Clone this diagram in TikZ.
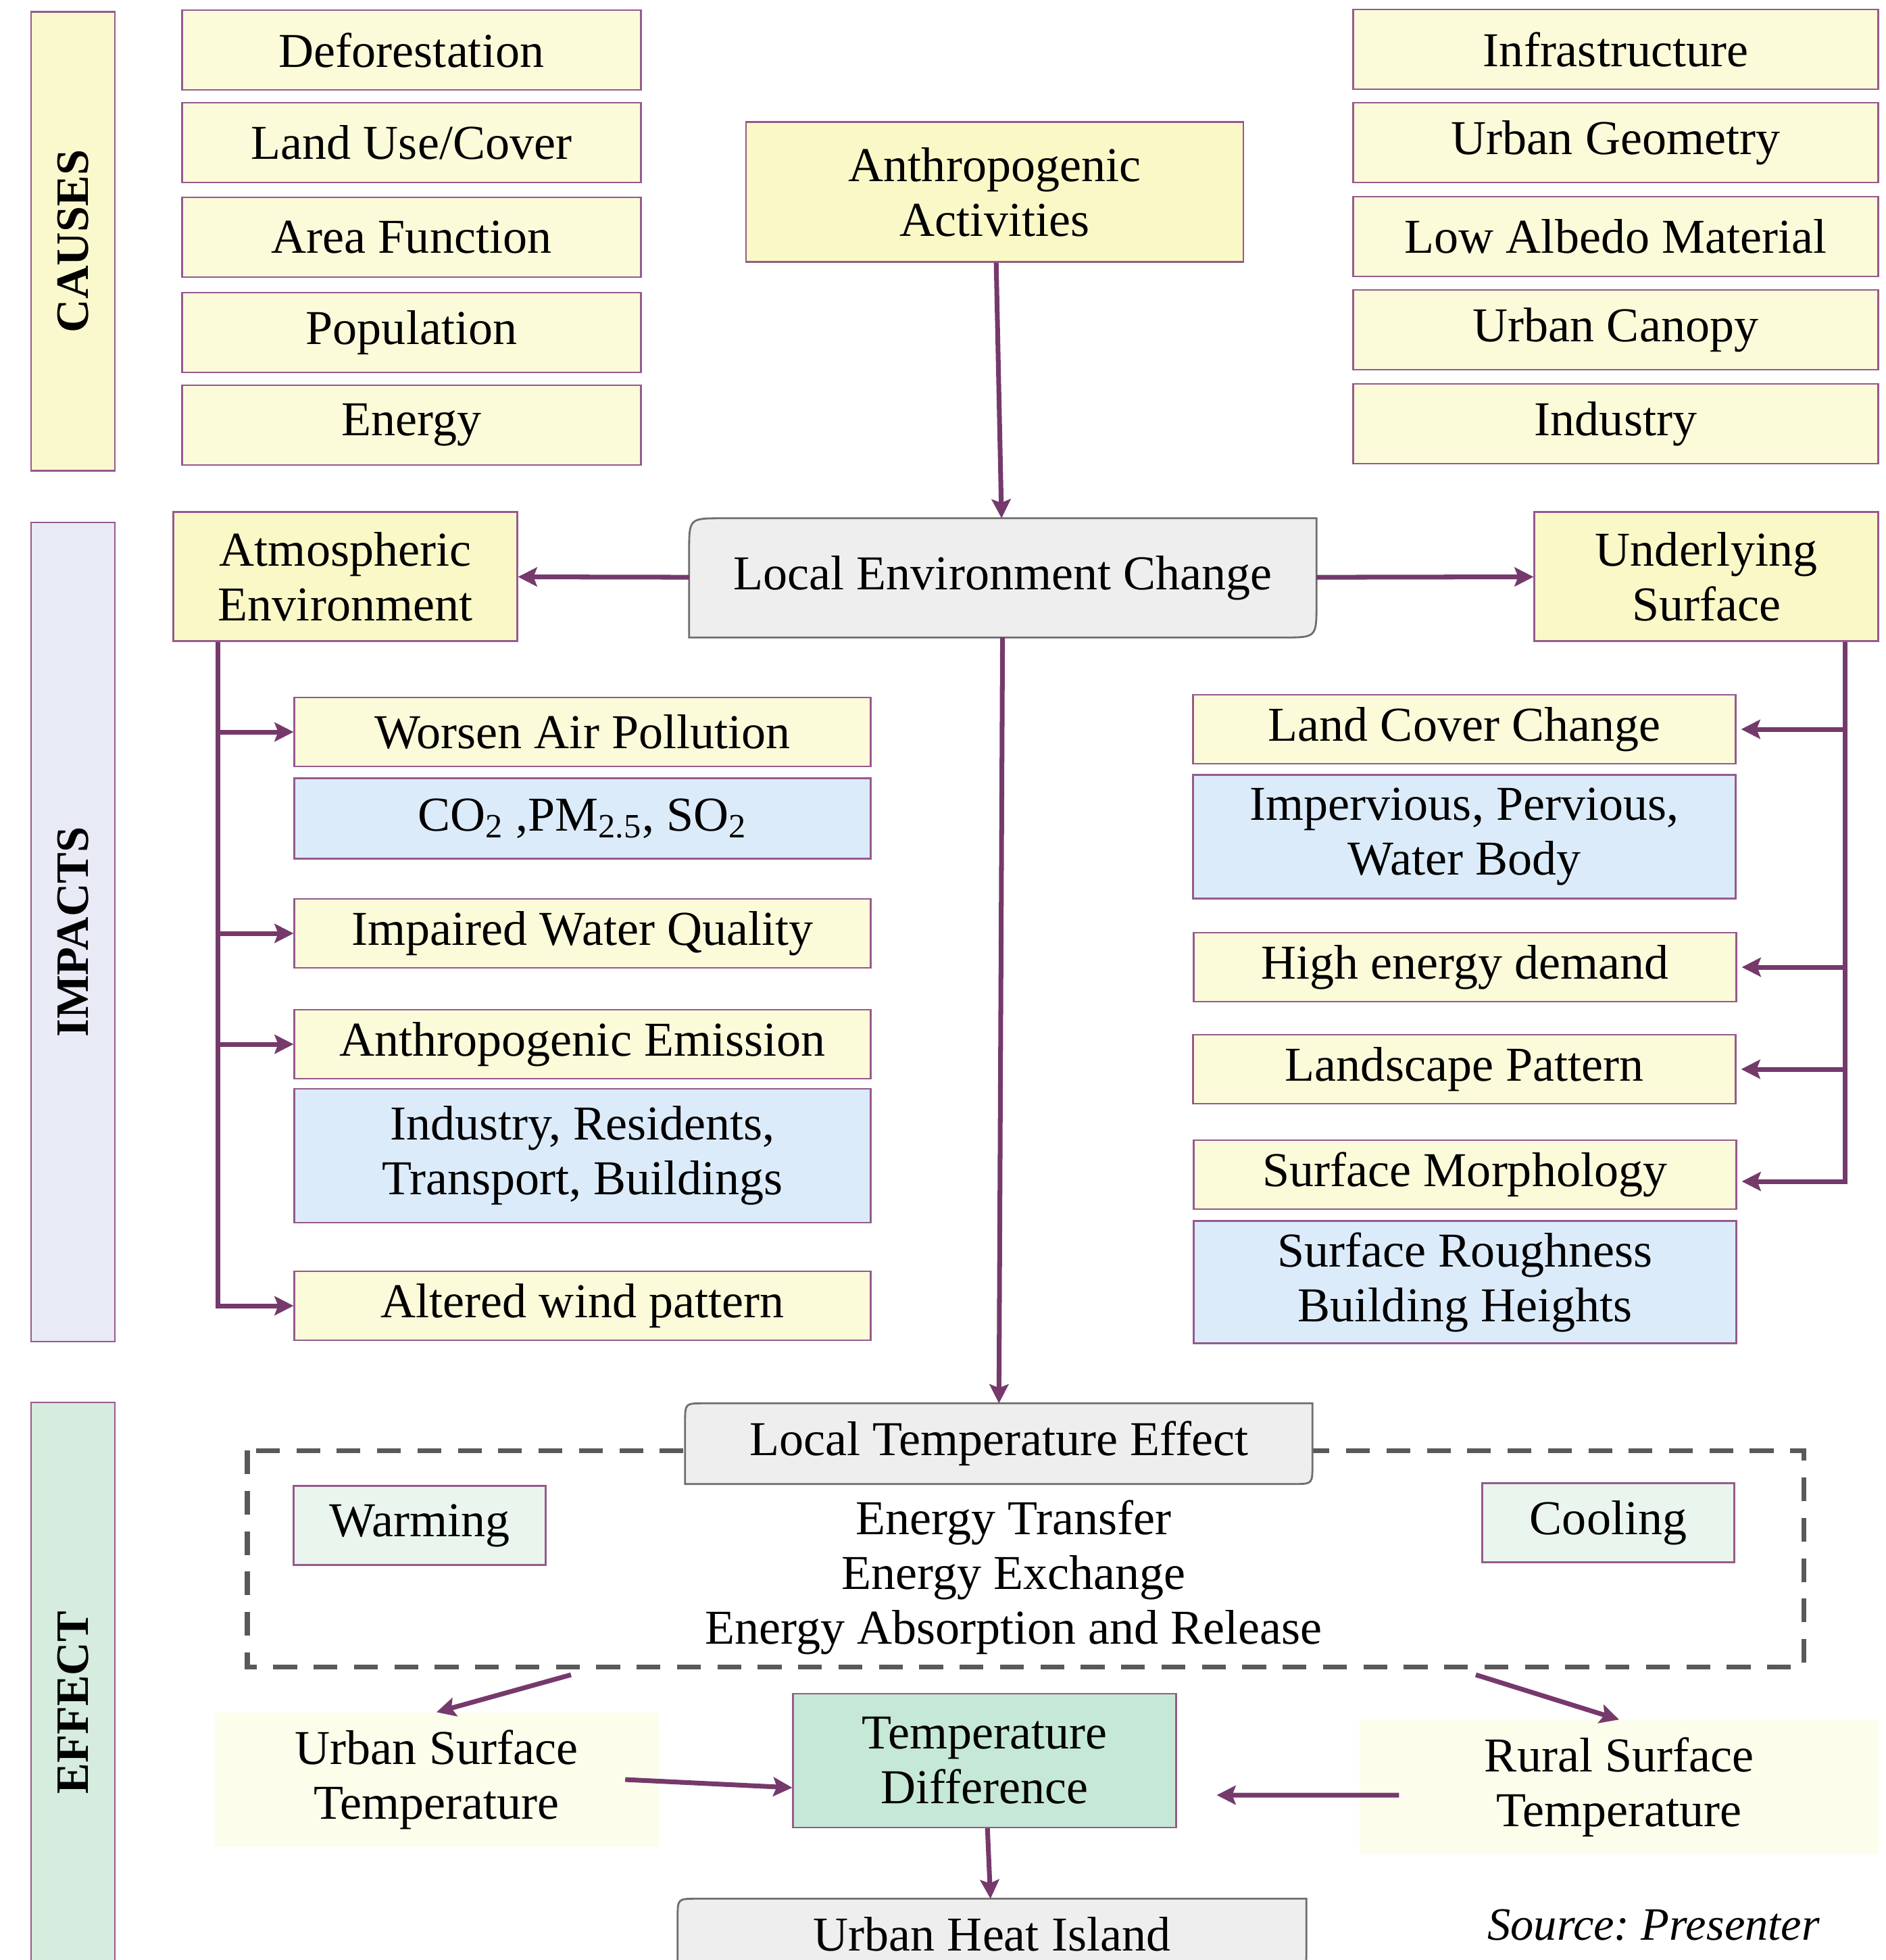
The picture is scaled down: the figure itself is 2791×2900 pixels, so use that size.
\documentclass[tikz,border=0pt]{standalone}
\usepackage{fontspec}
\setmainfont{Liberation Serif}
\usetikzlibrary{positioning,arrows.meta,backgrounds}

\definecolor{arrowpurple}{RGB}{117,57,108}
\definecolor{boxedge}{RGB}{150,90,140}
\definecolor{causefill}{RGB}{251,251,218}
\definecolor{headfill}{RGB}{251,248,200}
\definecolor{causebar}{RGB}{250,249,205}
\definecolor{impactbar}{RGB}{232,234,246}
\definecolor{effectbar}{RGB}{213,236,222}
\definecolor{bluefill}{RGB}{219,235,250}
\definecolor{mintfill}{RGB}{234,245,237}
\definecolor{difffill}{RGB}{198,232,214}
\definecolor{palefill}{RGB}{253,253,236}
\definecolor{greyfill}{RGB}{238,238,238}
\definecolor{greyedge}{RGB}{110,110,110}
\definecolor{dashgrey}{RGB}{89,89,89}

\tikzset{
  txt/.style={font=\fontsize{20.5}{23}\selectfont, align=center, inner sep=2pt},
  bar/.style={draw=boxedge, line width=0.6pt, rotate=90, minimum height=1.24cm,
    font=\fontsize{19.5}{22}\selectfont\bfseries},
  cause/.style={txt, draw=boxedge, line width=0.6pt, fill=causefill, minimum height=1.18cm},
  impact/.style={cause, minimum height=1.02cm},
  detail/.style={txt, draw=boxedge, line width=0.6pt, fill=bluefill},
  effectbox/.style={txt, draw=boxedge, line width=0.6pt, fill=mintfill},
  link/.style={draw=arrowpurple, line width=2pt,
    -{Stealth[length=8pt,width=8pt,inset=1.5pt]}}
}

\begin{document}
\begin{tikzpicture}[x=0.1mm, y=-0.1mm]
        \useasboundingbox (0,0) rectangle (2791,2900);

        % section bars
        \node (causes) at (108,357) [bar, fill=causebar, minimum width=6.79cm] {CAUSES};
        \node (impacts) at (108,1379) [bar, fill=impactbar, minimum width=12.12cm] {IMPACTS};
        \node (effect) at (108,2519) [bar, fill=effectbar, minimum width=8.88cm] {EFFECT};

        % causes
        \node (defor) at (609,74) [cause, minimum width=6.79cm] {Deforestation};
        \node (landuse) at (609,211) [cause, minimum width=6.79cm] {Land Use/Cover};
        \node (areafn) at (609,351) [cause, minimum width=6.79cm] {Area Function};
        \node (popul) at (609,492) [cause, minimum width=6.79cm] {Population};
        \node (energy) at (609,629) [cause, minimum width=6.79cm] {Energy};
        \node (infra) at (2391,73) [cause, minimum width=7.77cm] {Infrastructure};
        \node (geometry) at (2391,211) [cause, minimum width=7.77cm] {Urban Geometry};
        \node (albedo) at (2391,350) [cause, minimum width=7.77cm] {Low Albedo Material};
        \node (canopy) at (2391,488) [cause, minimum width=7.77cm] {Urban Canopy};
        \node (industry) at (2391,627) [cause, minimum width=7.77cm] {Industry};
        \node (anthro) at (1472,284) [cause, fill=headfill, minimum width=7.36cm, minimum height=2.07cm] {Anthropogenic\\Activities};

        % impacts
        \node (lec) at (1484,855) [txt, minimum width=9.27cm, minimum height=1.75cm] {Local Environment Change};
        \node (atmos) at (511,853) [cause, fill=headfill, minimum width=5.09cm, minimum height=1.91cm] {Atmospheric\\Environment};
        \node (under) at (2525,853) [cause, fill=headfill, minimum width=5.09cm, minimum height=1.91cm] {Underlying\\Surface};

        \node (worsen) at (862,1083) [impact, minimum width=8.53cm] {Worsen Air Pollution};
        \node (gases) at (862,1211) [detail, minimum width=8.53cm, minimum height=1.19cm] {CO\textsubscript{2} ,PM\textsubscript{2.5}, SO\textsubscript{2}};
        \node (water) at (862,1381) [impact, minimum width=8.53cm] {Impaired Water Quality};
        \node (emission) at (862,1545) [impact, minimum width=8.53cm] {Anthropogenic Emission};
        \node (sources) at (862,1710) [detail, minimum width=8.53cm, minimum height=1.98cm] {Industry, Residents,\\Transport, Buildings};
        \node (wind) at (862,1932) [impact, minimum width=8.53cm] {Altered wind pattern};

        \node (lcc) at (2167,1079) [impact, minimum width=8.03cm] {Land Cover Change};
        \node (cover) at (2167,1238) [detail, minimum width=8.03cm, minimum height=1.83cm] {Impervious, Pervious,\\Water Body};
        \node (demand) at (2168,1431) [impact, minimum width=8.03cm] {High energy demand};
        \node (landscape) at (2167,1582) [impact, minimum width=8.03cm] {Landscape Pattern};
        \node (morph) at (2168,1738) [impact, minimum width=8.03cm] {Surface Morphology};
        \node (rough) at (2168,1897) [detail, minimum width=8.03cm, minimum height=1.81cm] {Surface Roughness\\Building Heights};

        % effect
        \node (lte) at (1478,2136) [txt, minimum width=9.27cm, minimum height=1.18cm] {Local Temperature Effect};
        \node (warming) at (621,2257) [effectbox, minimum width=3.73cm, minimum height=1.17cm] {Warming};
        \node (cooling) at (2380,2253) [effectbox, minimum width=3.73cm, minimum height=1.17cm] {Cooling};
        \node (exchange) at (1500,2334) [txt] {Energy Transfer\\Energy Exchange\\Energy Absorption and Release};
        \node (urbsurf) at (646,2633) [txt, fill=palefill, minimum width=6.57cm, minimum height=1.98cm] {Urban Surface\\Temperature};
        \node (tempdiff) at (1457,2605) [effectbox, fill=difffill, minimum width=5.67cm, minimum height=1.98cm] {Temperature\\Difference};
        \node (ruralsurf) at (2396,2644) [txt, fill=palefill, minimum width=7.68cm, minimum height=1.98cm] {Rural Surface\\Temperature};
        \node (uhi) at (1468,2862) [txt, minimum width=9.29cm, minimum height=1.04cm] {Urban Heat Island};
        \node (source) at (2447,2848) [txt, font=\fontsize{19.5}{22}\selectfont\itshape] {Source:\ Presenter};

        % grey boxes with two round corners, dashed frame
        \begin{scope}[on background layer]
            \draw [dashgrey, line width=2pt, dash pattern=on 10pt off 7pt] (366,2146) rectangle (2669,2466);
            \foreach \n/\r in {lec/14pt, lte/8pt, uhi/8pt}
                \filldraw [fill=greyfill, draw=greyedge, line width=0.8pt]
                    (\n.south west) -- ([yshift=-\r]\n.north west)
                    .. controls (\n.north west) .. ([xshift=\r]\n.north west)
                    -- (\n.north east) -- ([yshift=\r]\n.south east)
                    .. controls (\n.south east) .. ([xshift=-\r]\n.south east) -- cycle;
        \end{scope}

        % connectors
        \draw [link] (anthro) -- (lec);
        \draw [link] (lec) -- (atmos);
        \draw [link] (lec) -- (under);
        \draw [link] (lec) -- (lte);

        \coordinate (ltrunk) at ([xshift=0.67cm]atmos.south west);
        \draw [link] (ltrunk) |- (worsen.west);
        \draw [link] (ltrunk) |- (water.west);
        \draw [link] (ltrunk) |- (emission.west);
        \draw [link] (ltrunk) |- (wind.west);

        \coordinate (rtrunk) at ([xshift=-0.5cm]under.south east);
        \draw [link, shorten >=2pt] (rtrunk) |- (lcc.east);
        \draw [link, shorten >=2pt] (rtrunk) |- (demand.east);
        \draw [link, shorten >=2pt] (rtrunk) |- (landscape.east);
        \draw [link, shorten >=2pt] (rtrunk) |- ([yshift=-0.1cm]morph.east);

        \coordinate (dashl) at (845,2478);
        \coordinate (dashr) at (2184,2478);
        \draw [link] (dashl) -- (urbsurf.north);
        \draw [link] (dashr) -- (ruralsurf.north);
        \draw [link] ([xshift=-0.5cm]urbsurf.east) -- ([yshift=-0.4cm]tempdiff.west);
        \draw [link] ([xshift=0.59cm,yshift=-0.12cm]ruralsurf.west) -- ([xshift=0.59cm,yshift=-0.51cm]tempdiff.east);
        \draw [link] (tempdiff) -- (uhi);
\end{tikzpicture}
\end{document}
